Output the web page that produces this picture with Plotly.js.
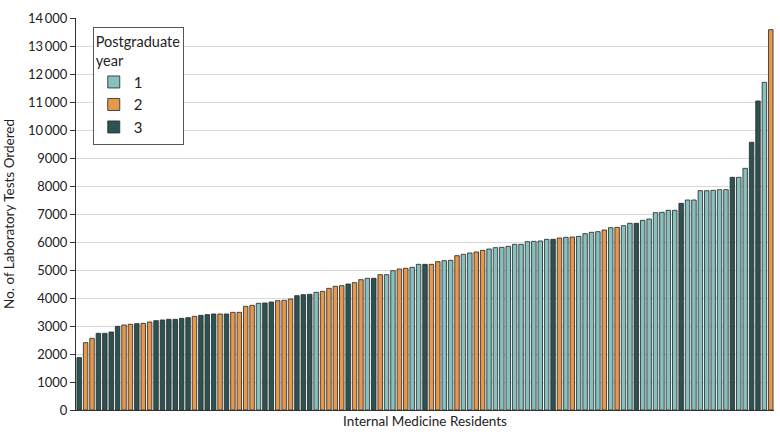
<!DOCTYPE html>
<html>
<head>
<meta charset="utf-8">
<script src="https://cdn.plot.ly/plotly-3.0.1.min.js"></script>
<style>html,body{margin:0;padding:0;background:#fff;}#chart{width:780px;height:445px;}</style>
</head>
<body>
<div id="chart"></div>
<script>
// Number of laboratory tests ordered per resident (sorted ascending)
const testsOrdered = [
  1870, 2405, 2560, 2738, 2738, 2786, 2988, 3036, 3060, 3083,
  3095, 3143, 3190, 3214, 3238, 3238, 3274, 3297, 3345, 3381,
  3405, 3429, 3429, 3429, 3488, 3488, 3702, 3738, 3810, 3821,
  3857, 3905, 3917, 3964, 4083, 4119, 4131, 4202, 4238, 4345,
  4417, 4440, 4500, 4548, 4655, 4702, 4702, 4833, 4833, 4976,
  5036, 5060, 5095, 5202, 5202, 5202, 5298, 5333, 5345, 5512,
  5560, 5607, 5643, 5702, 5750, 5798, 5810, 5845, 5917, 5917,
  6012, 6024, 6036, 6095, 6095, 6143, 6167, 6179, 6202, 6298,
  6345, 6369, 6429, 6512, 6524, 6583, 6667, 6667, 6774, 6821,
  7048, 7060, 7131, 7131, 7381, 7500, 7500, 7833, 7833, 7845,
  7869, 7869, 8310, 8310, 8631, 9560, 11036, 11702, 13583
];
// Postgraduate year of each resident (same order)
const pgYear = [
  3, 2, 2, 3, 3, 3, 3, 2, 2, 3,
  2, 2, 3, 3, 3, 3, 3, 3, 2, 3,
  3, 3, 2, 3, 2, 2, 2, 2, 1, 3,
  3, 2, 2, 2, 3, 3, 3, 1, 2, 2,
  2, 2, 3, 2, 2, 1, 3, 2, 1, 1,
  2, 2, 1, 1, 3, 2, 2, 1, 1, 2,
  1, 1, 2, 2, 1, 1, 1, 1, 1, 1,
  1, 1, 1, 1, 3, 2, 1, 2, 1, 1,
  1, 1, 2, 1, 2, 1, 1, 3, 1, 1,
  1, 1, 1, 1, 3, 1, 1, 1, 1, 1,
  1, 1, 3, 1, 1, 3, 3, 1, 2
];
const years = [1, 2, 3];
const yearLabels = ['1', '2', '3'];
const yearColors = ['#84c1bf', '#e6984b', '#2b5351'];

const traces = years.map((yr, k) => {
  const xs = [], ys = [];
  testsOrdered.forEach((v, i) => { if (pgYear[i] === yr) { xs.push(i); ys.push(v); } });
  return {
    type: 'bar', x: xs, y: ys, name: yearLabels[k], legendgroup: 'g' + yr,
    marker: { color: yearColors[k], line: { color: 'rgba(45,45,45,0.85)', width: 1 } },
    hoverinfo: 'y'
  };
});

const layout = {
  width: 780, height: 445,
  margin: { l: 76, r: 6, t: 18, b: 35 },
  paper_bgcolor: '#fff', plot_bgcolor: '#fff',
  font: { family: 'Lato, "Noto Sans", sans-serif', color: '#222', size: 13 },
  separators: '.\u2009',
  barmode: 'overlay',
  bargap: 0.3,
  showlegend: true,
  legend: {
    x: 0.024, y: 0.977, xanchor: 'left', yanchor: 'top',
    bgcolor: '#fff', bordercolor: '#555', borderwidth: 1,
    font: { size: 15, color: '#222' },
    title: { text: 'Postgraduate<br>year', font: { size: 14.5, color: '#222' } },
    tracegroupgap: 9, traceorder: 'normal'
  },
  xaxis: {
    range: [-0.5, testsOrdered.length - 0.5],
    showticklabels: false, ticks: '', showgrid: false, zeroline: false,
    showline: true, linecolor: '#333', linewidth: 1,
    title: { text: 'Internal Medicine Residents', font: { size: 13.5, color: '#222' }, standoff: 6 }
  },
  yaxis: {
    range: [0, 14000], dtick: 1000, tick0: 0,
    exponentformat: 'none',
    ticks: 'outside', ticklen: 5, tickcolor: '#333', tickfont: { size: 13, color: '#222' },
    showline: true, linecolor: '#333', linewidth: 1,
    showgrid: true, gridcolor: '#d9d9d9', gridwidth: 1, zeroline: false,
    title: { text: 'No. of Laboratory Tests Ordered', font: { size: 13.5, color: '#222' }, standoff: 10 }
  }
};

Plotly.newPlot('chart', traces, layout, { displayModeBar: false, staticPlot: true });
</script>
</body>
</html>
